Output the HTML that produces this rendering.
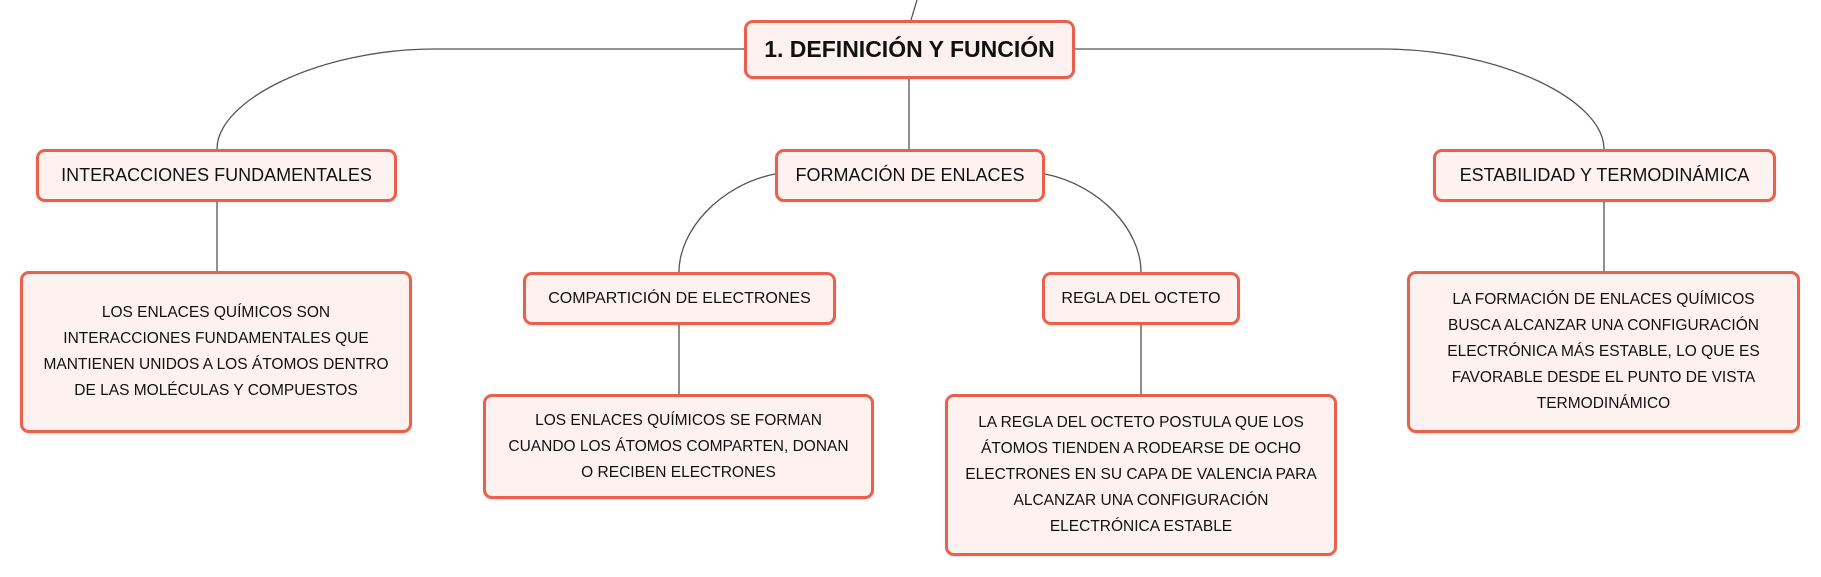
<!DOCTYPE html>
<html><head><meta charset="utf-8"><style>
body{margin:0;width:1821px;height:577px;background:#fff;position:relative;overflow:hidden;font-family:"Liberation Sans",sans-serif;}
.b{position:absolute;box-sizing:border-box;border:3px solid #e9604d;border-radius:9px;background:#fdf2ef;display:flex;align-items:center;justify-content:center;text-align:center;color:#111;box-shadow:0 1px 2px rgba(0,0,0,.12);}
.n{font-size:18px;}
.d{font-size:15.5px;line-height:26px;padding:0 4px;}
svg{position:absolute;left:0;top:0;}
</style></head><body>
<svg width="1821" height="577" fill="none" stroke="#555" stroke-width="1.3">
<path d="M917 0 L911 20"/>
<path d="M744 49 L435 49 C320 49 217 100 217 149"/>
<path d="M1075 49 L1382 49 C1500 49 1604 100 1604 149"/>
<path d="M909 79 L909 149"/>
<path d="M775 174 C720 185 679 230 679 272"/>
<path d="M1045 174 C1100 185 1141 230 1141 272"/>
<path d="M217 202 L217 271"/>
<path d="M679 325 L679 394"/>
<path d="M1141 325 L1141 394"/>
<path d="M1604 202 L1604 271"/>
</svg>
<div class="b" style="left:744px;top:20px;width:331px;height:59px;font-size:23px;font-weight:bold;">1. DEFINICIÓN Y FUNCIÓN</div>
<div class="b n" style="left:36px;top:149px;width:361px;height:53px;">INTERACCIONES FUNDAMENTALES</div>
<div class="b n" style="left:775px;top:149px;width:270px;height:53px;">FORMACIÓN DE ENLACES</div>
<div class="b n" style="left:1433px;top:149px;width:343px;height:53px;">ESTABILIDAD Y TERMODINÁMICA</div>
<div class="b d" style="left:20px;top:271px;width:392px;height:162px;">LOS ENLACES QUÍMICOS SON<br>INTERACCIONES FUNDAMENTALES QUE<br>MANTIENEN UNIDOS A LOS ÁTOMOS DENTRO<br>DE LAS MOLÉCULAS Y COMPUESTOS</div>
<div class="b n" style="left:523px;top:272px;width:313px;height:53px;font-size:16px;">COMPARTICIÓN DE ELECTRONES</div>
<div class="b n" style="left:1042px;top:272px;width:198px;height:53px;font-size:16px;">REGLA DEL OCTETO</div>
<div class="b d" style="left:483px;top:394px;width:391px;height:105px;">LOS ENLACES QUÍMICOS SE FORMAN<br>CUANDO LOS ÁTOMOS COMPARTEN, DONAN<br>O RECIBEN ELECTRONES</div>
<div class="b d" style="left:945px;top:394px;width:392px;height:162px;">LA REGLA DEL OCTETO POSTULA QUE LOS<br>ÁTOMOS TIENDEN A RODEARSE DE OCHO<br>ELECTRONES EN SU CAPA DE VALENCIA PARA<br>ALCANZAR UNA CONFIGURACIÓN<br>ELECTRÓNICA ESTABLE</div>
<div class="b d" style="left:1407px;top:271px;width:393px;height:162px;">LA FORMACIÓN DE ENLACES QUÍMICOS<br>BUSCA ALCANZAR UNA CONFIGURACIÓN<br>ELECTRÓNICA MÁS ESTABLE, LO QUE ES<br>FAVORABLE DESDE EL PUNTO DE VISTA<br>TERMODINÁMICO</div>
</body></html>
